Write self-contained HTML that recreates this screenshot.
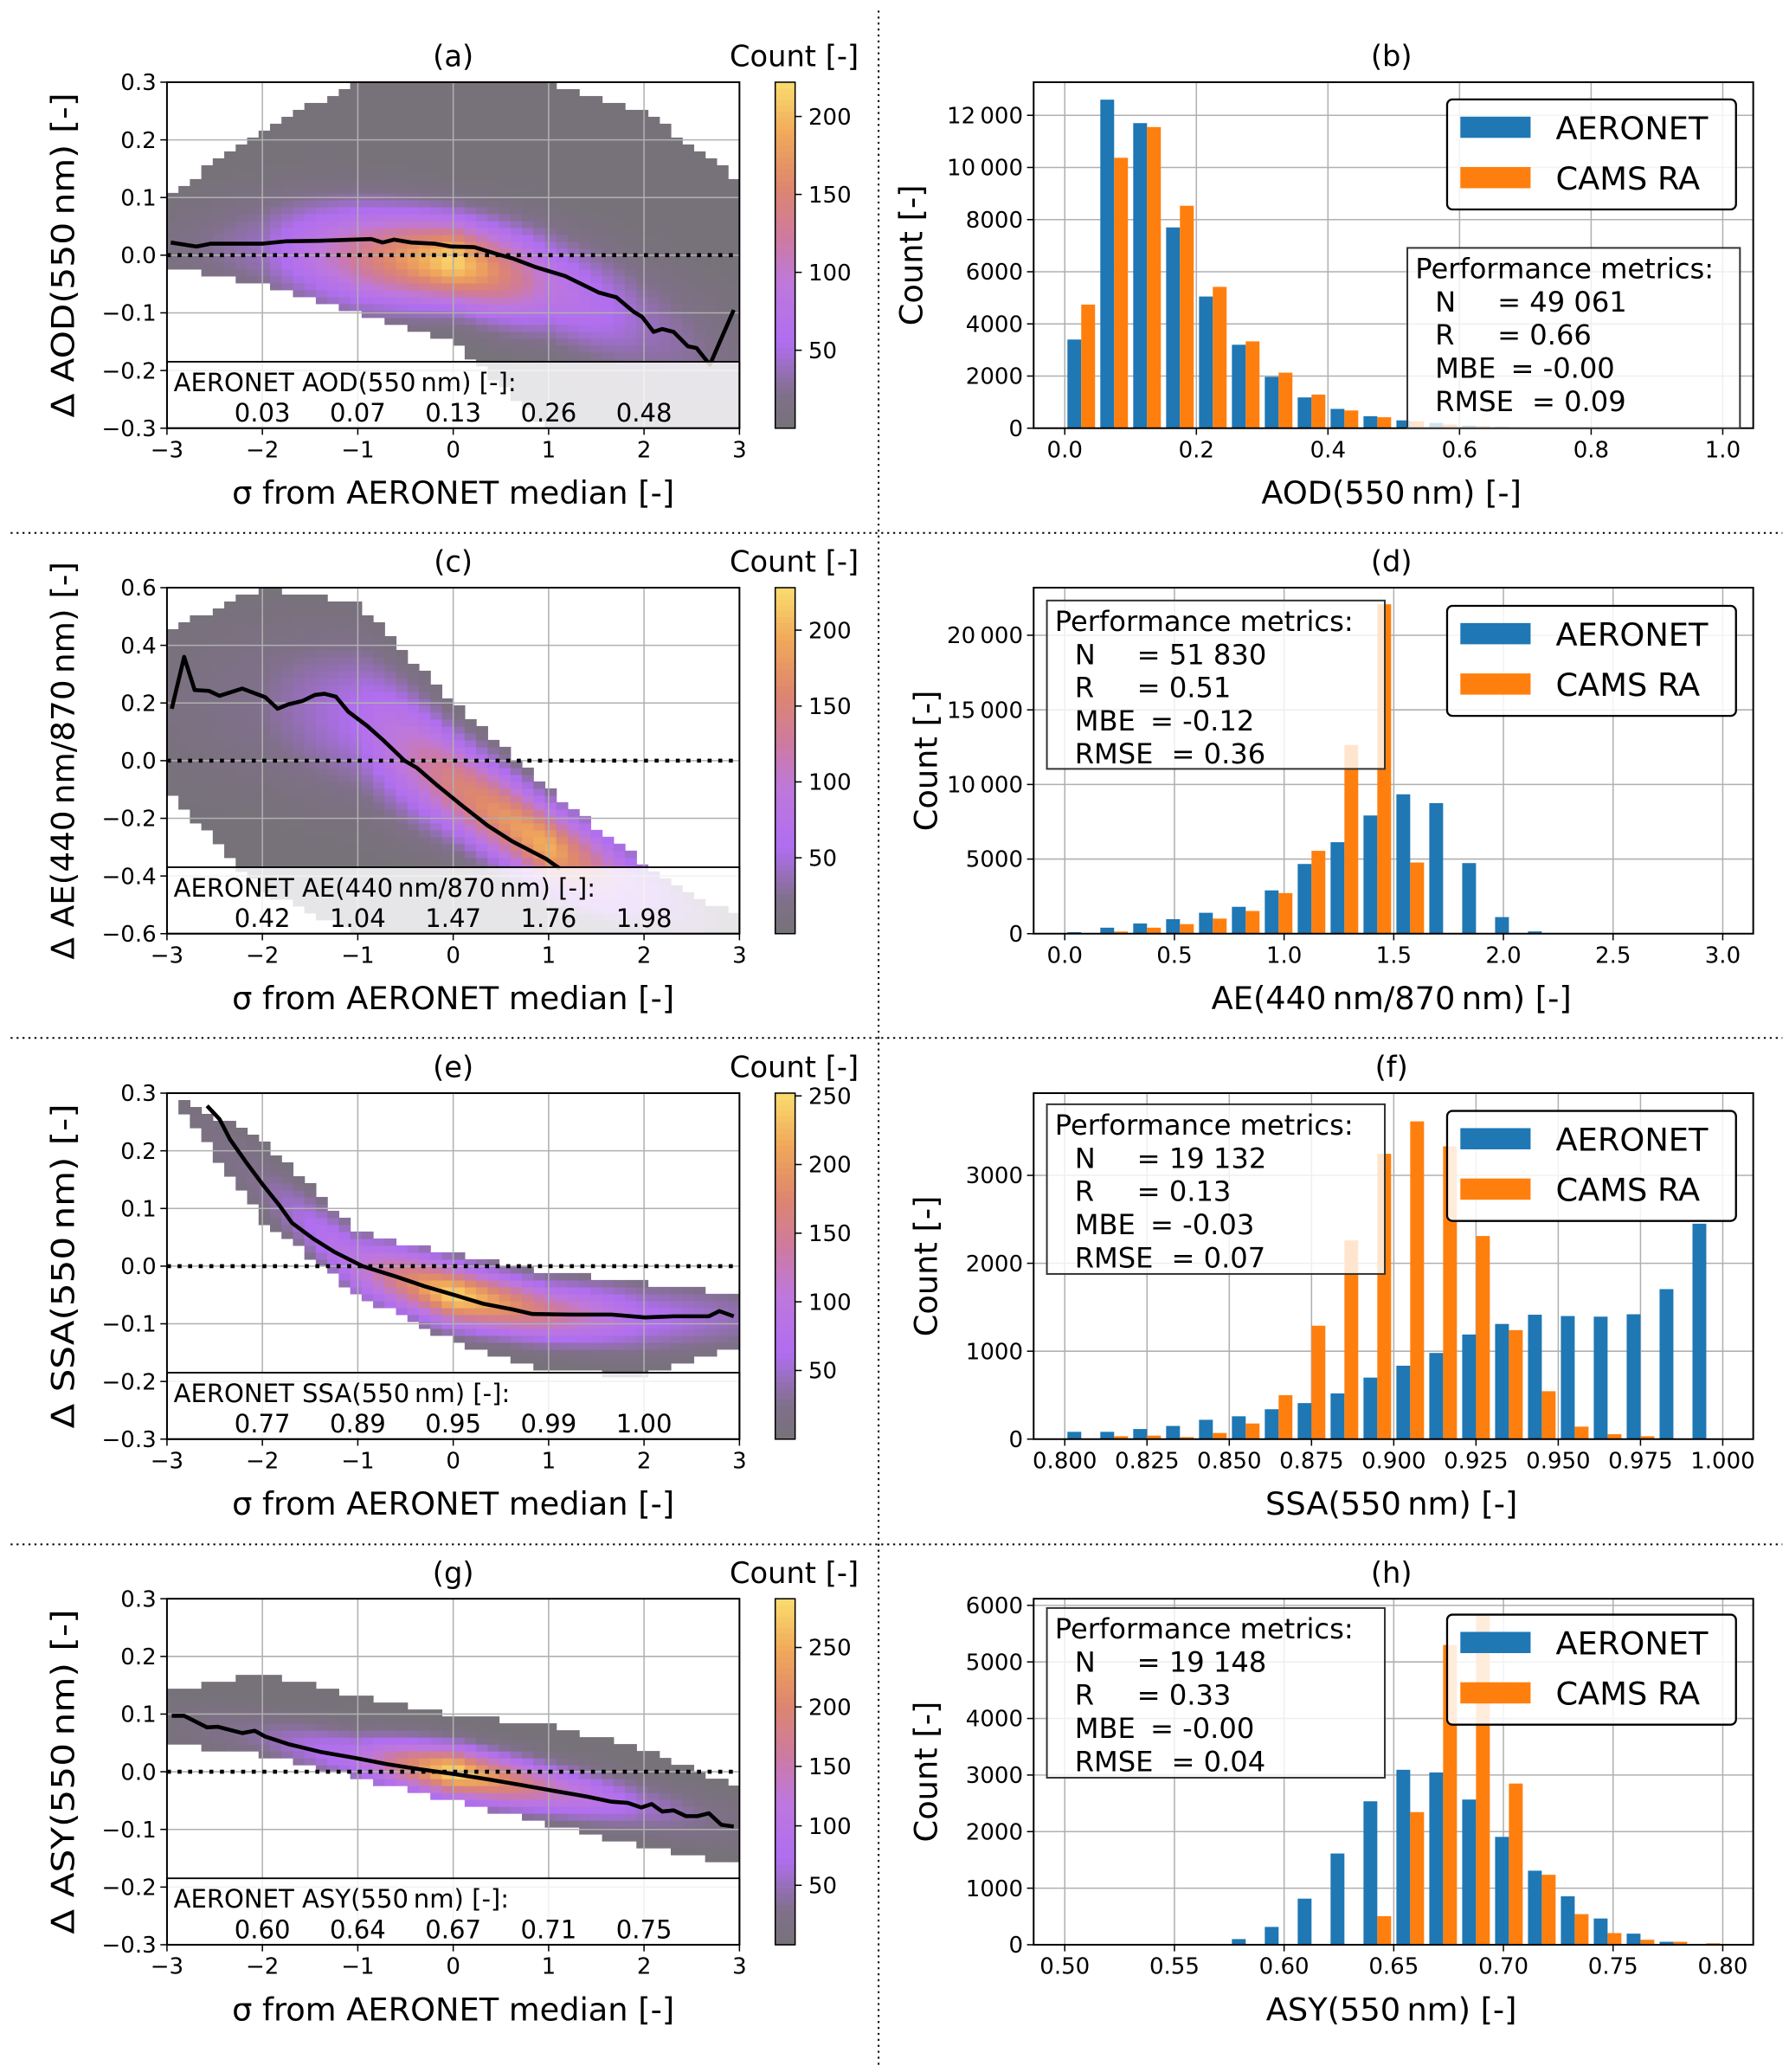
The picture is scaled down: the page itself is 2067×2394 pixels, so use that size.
<!DOCTYPE html>
<html><head><meta charset="utf-8"><title>AERONET vs CAMS RA</title>
<style>html,body{margin:0;padding:0;background:#fff}svg{display:block}text{font-family:"DejaVu Sans","Liberation Sans",sans-serif;fill:#000}</style>
</head><body>
<svg id="fig" xmlns="http://www.w3.org/2000/svg" width="2067" height="2394" viewBox="0 0 1350 1563" preserveAspectRatio="none"></svg>
<script>
// ---------- Histogram data ----------
const binStartB=0.0, binWidthB=0.05;
const aeronetB=[3400,12600,11700,7700,5050,3200,1970,1180,740,460,300,200,100,60,25,15,10,5,3,2];
const camsB=[4740,10370,11550,8530,5420,3330,2130,1290,680,420,260,140,80,40,20,10,5,3,2,1];
const binStartD=0.0, binWidthD=0.15;
const aeronetD=[100,400,680,970,1400,1800,2900,4670,6130,7920,9340,8750,4730,1110,150,0,0,0,0,0];
const camsD=[0,140,400,640,1010,1520,2720,5550,12650,22080,4770,0,0,0,0,0,0,0,0,0];
const binStartF=0.8, binWidthF=0.01;
const aeronetF=[83,83,115,150,220,260,340,410,520,700,835,980,1190,1310,1415,1400,1393,1420,1706,2450];
const camsF=[0,33,40,23,70,178,500,1290,2260,3245,3614,3330,2310,1240,545,142,56,33,0,0];
const binStartH=0.5, binWidthH=0.015;
const aeronetH=[0,0,0,0,15,100,315,815,1613,2536,3093,3046,2567,1907,1309,856,464,196,52,10];
const camsH=[0,0,0,0,0,0,0,0,0,505,2345,5300,5850,2850,1237,541,206,88,52,26];
// ---------- Median-line data (sigma, delta) ----------
const sigA=[-2.96,-2.69,-2.54,-2.0,-1.76,-1.4,-0.86,-0.74,-0.62,-0.44,-0.2,-0.02,0.22,0.46,0.63,0.87,1.17,1.53,1.71,1.89,1.98,2.1,2.19,2.31,2.46,2.55,2.69,2.94];
const medA=[0.022,0.015,0.02,0.02,0.024,0.025,0.028,0.022,0.027,0.022,0.02,0.015,0.014,0.002,-0.006,-0.021,-0.036,-0.065,-0.073,-0.098,-0.107,-0.133,-0.128,-0.133,-0.158,-0.161,-0.19,-0.095];
const sigC=[-2.95,-2.82,-2.71,-2.56,-2.45,-2.21,-1.97,-1.84,-1.73,-1.58,-1.45,-1.35,-1.23,-1.1,-0.9,-0.73,-0.51,-0.38,-0.17,0.09,0.36,0.62,0.97,1.12];
const medC=[0.18,0.36,0.245,0.242,0.225,0.25,0.22,0.18,0.195,0.207,0.228,0.232,0.222,0.17,0.12,0.07,0.0,-0.025,-0.085,-0.155,-0.225,-0.28,-0.34,-0.375];
const sigE=[-2.58,-2.45,-2.34,-2.17,-1.99,-1.82,-1.69,-1.47,-1.25,-0.95,-0.6,-0.3,0.01,0.31,0.62,0.83,1.23,1.66,2.01,2.31,2.68,2.79,2.94];
const medE=[0.278,0.255,0.22,0.18,0.14,0.105,0.075,0.048,0.025,0.0,-0.018,-0.035,-0.05,-0.065,-0.075,-0.083,-0.084,-0.084,-0.089,-0.087,-0.087,-0.078,-0.087];
const sigG=[-2.95,-2.82,-2.58,-2.47,-2.21,-2.08,-1.97,-1.73,-1.38,-1.03,-0.69,-0.34,0.01,0.36,0.71,1.05,1.4,1.66,1.83,1.97,2.08,2.19,2.31,2.44,2.56,2.68,2.81,2.94];
const medG=[0.097,0.097,0.077,0.078,0.067,0.071,0.061,0.048,0.034,0.024,0.013,0.004,-0.004,-0.013,-0.023,-0.033,-0.043,-0.052,-0.054,-0.062,-0.056,-0.069,-0.067,-0.077,-0.077,-0.072,-0.092,-0.095];
// ---------- Density envelope knots (sigma = -3..3) ----------
const knots=[-3,-2,-1,0,1,2,3];
const cenA=[0.02,0.015,0.0,-0.01,-0.05,-0.12,-0.2], widA=[0.05,0.06,0.06,0.05,0.06,0.07,0.08], peakA=[12,40,130,220,90,40,15], loA=[-0.02,-0.05,-0.1,-0.15,-0.3,-0.3,-0.3], hiA=[0.1,0.22,0.3,0.3,0.3,0.25,0.13];
const cenC=[0.2,0.2,0.15,-0.08,-0.3,-0.45,-0.6], widC=[0.2,0.2,0.18,0.12,0.1,0.1,0.1], peakC=[10,25,60,150,200,60,10], loC=[-0.1,-0.45,-0.6,-0.6,-0.6,-0.6,-0.6], hiC=[0.45,0.6,0.55,0.2,-0.1,-0.36,-0.55];
const cenE=[0.3,0.14,0.0,-0.05,-0.08,-0.09,-0.09], widE=[0.04,0.04,0.04,0.035,0.035,0.04,0.04], peakE=[5,30,100,250,150,70,40], loE=[0.31,0.08,-0.05,-0.13,-0.18,-0.19,-0.14], hiE=[0.3,0.22,0.06,0.02,-0.01,-0.03,-0.05];
const cenG=[0.09,0.06,0.025,0.0,-0.03,-0.06,-0.09], widG=[0.03,0.03,0.03,0.03,0.03,0.03,0.03], peakG=[10,40,100,290,150,60,15], loG=[0.05,0.03,-0.01,-0.05,-0.09,-0.13,-0.16], hiG=[0.14,0.17,0.13,0.1,0.08,0.04,-0.03];
const cbarMax=[222,228,252,291];
const cbarTicksA=[50,100,150,200], cbarTicksC=[50,100,150,200], cbarTicksE=[50,100,150,200,250], cbarTicksG=[50,100,150,200,250];
const insetA=["0.03","0.07","0.13","0.26","0.48"], insetC=["0.42","1.04","1.47","1.76","1.98"], insetE=["0.77","0.89","0.95","0.99","1.00"], insetG=["0.60","0.64","0.67","0.71","0.75"];
const metricsB=["49 061","0.66","-0.00","0.09"], metricsD=["51 830","0.51","-0.12","0.36"], metricsF=["19 132","0.13","-0.03","0.07"], metricsH=["19 148","0.33","-0.00","0.04"];

const NS="http://www.w3.org/2000/svg";
const svg=document.getElementById('fig');
function mk(tag,attrs,parent){const e=document.createElementNS(NS,tag);for(const k in attrs)e.setAttribute(k,attrs[k]);(parent||svg).appendChild(e);return e;}
function txt(s,x,y,size,anchor,parent){const t=mk('text',{x:x,y:y,'font-size':size,'text-anchor':anchor||'start'},parent);t.textContent=s;return t;}
function lerpK(arr,s){if(s<=knots[0])return arr[0];for(let i=0;i<knots.length-1;i++){if(s<=knots[i+1]){const f=(s-knots[i])/(knots[i+1]-knots[i]);return arr[i]+f*(arr[i+1]-arr[i]);}}return arr[arr.length-1];}
const cmStops=[[0,[118,114,120]],[0.1,[128,112,138]],[0.25,[176,110,240]],[0.42,[190,120,220]],[0.55,[205,122,160]],[0.7,[222,134,110]],[0.85,[240,168,90]],[1,[250,220,110]]];
function cmap(t){t=Math.max(0,Math.min(1,t));for(let i=0;i<cmStops.length-1;i++){const a=cmStops[i],b=cmStops[i+1];if(t<=b[0]){const f=(t-a[0])/(b[0]-a[0]);const c=a[1].map((v,j)=>Math.round(v+f*(b[1][j]-v)));return `rgb(${c[0]},${c[1]},${c[2]})`;}}return 'rgb(250,220,110)';}

const X0=126,X1=558,RX0=780,RX1=1323,H=261;
const tops=[62,443.3,824.6,1206];

mk('line',{x1:663,y1:8,x2:663,y2:1560,stroke:'#000','stroke-width':1.3,'stroke-dasharray':'1.5,3'});
[402,783,1165].forEach(y=>{const l=mk('line',{x1:8,y1:y,x2:1345,y2:y,stroke:'#000','stroke-width':1.3,'stroke-dasharray':'1.5,3'});});

const leftPanels=[
 {id:'a',ymin:-0.3,ymax:0.3,step:0.1,sig:sigA,med:medA,cen:cenA,wid:widA,peak:peakA,lo:loA,hi:hiA,cmax:cbarMax[0],cticks:cbarTicksA,inset:'AERONET AOD(550\u2009nm) [-]:',ivals:insetA,ylab:'\u0394 AOD(550\u2009nm) [-]'},
 {id:'c',ymin:-0.6,ymax:0.6,step:0.2,sig:sigC,med:medC,cen:cenC,wid:widC,peak:peakC,lo:loC,hi:hiC,cmax:cbarMax[1],cticks:cbarTicksC,inset:'AERONET AE(440\u2009nm/870\u2009nm) [-]:',ivals:insetC,ylab:'\u0394 AE(440\u2009nm/870\u2009nm) [-]'},
 {id:'e',ymin:-0.3,ymax:0.3,step:0.1,sig:sigE,med:medE,cen:cenE,wid:widE,peak:peakE,lo:loE,hi:hiE,cmax:cbarMax[2],cticks:cbarTicksE,inset:'AERONET SSA(550\u2009nm) [-]:',ivals:insetE,ylab:'\u0394 SSA(550\u2009nm) [-]'},
 {id:'g',ymin:-0.3,ymax:0.3,step:0.1,sig:sigG,med:medG,cen:cenG,wid:widG,peak:peakG,lo:loG,hi:hiG,cmax:cbarMax[3],cticks:cbarTicksG,inset:'AERONET ASY(550\u2009nm) [-]:',ivals:insetG,ylab:'\u0394 ASY(550\u2009nm) [-]'}
];

leftPanels.forEach((p,i)=>{
 const top=tops[i],bot=top+H;
 const g=mk('g',{});
 
 
 const xs=s=>X0+(s+3)/6*(X1-X0);
 const ys=v=>bot-(v-p.ymin)/(p.ymax-p.ymin)*H;
 const clip=mk('clipPath',{id:'clip'+p.id},g);mk('rect',{x:X0,y:top,width:X1-X0,height:H},clip);
 const cells=mk('g',{'clip-path':'url(#clip'+p.id+')'},g);
 const N=50,dy=(p.ymax-p.ymin)/N,dx=6/N;
 for(let ix=0;ix<N;ix++){const s=-3+(ix+0.5)*dx;const lo=lerpK(p.lo,s),hi=lerpK(p.hi,s),c=lerpK(p.cen,s),w=lerpK(p.wid,s),pk=lerpK(p.peak,s);
  for(let iy=0;iy<N;iy++){const v=p.ymin+(iy+0.5)*dy;if(v<lo||v>hi)continue;
   const cnt=Math.max(2,pk*Math.exp(-0.5*((v-c)/w)**2));
   const r=mk('rect',{x:xs(-3+ix*dx),y:ys(p.ymin+(iy+1)*dy),width:(X1-X0)/N+0.4,height:H/N+0.4,fill:cmap(cnt/p.cmax)},cells);
   
   }}
 for(let s=-2;s<=2;s++)mk('line',{x1:xs(s),y1:top,x2:xs(s),y2:bot,stroke:'#b0b0b0','stroke-width':1},g);
 for(let v=p.ymin+p.step;v<p.ymax-1e-9;v+=p.step)mk('line',{x1:X0,y1:ys(v),x2:X1,y2:ys(v),stroke:'#b0b0b0','stroke-width':1},g);
 const z=mk('line',{x1:X0,y1:ys(0),x2:X1,y2:ys(0),stroke:'#000','stroke-width':3,'stroke-dasharray':'3,5'},g);
 
 const pl=mk('polyline',{points:p.sig.map((s,k)=>xs(s)+','+ys(p.med[k])).join(' '),fill:'none',stroke:'#000','stroke-width':3,'stroke-linejoin':'round'},g);
 
 const iy=top+H*0.808;
 const ins=mk('rect',{x:X0,y:iy,width:X1-X0,height:bot-iy,fill:'#fff','fill-opacity':0.82,stroke:'#000','stroke-width':1.2},g);
 
 txt(p.inset,131,top+233,19,'start',g);
 p.ivals.forEach((t,k)=>txt(t,xs(k-2),top+256,19,'middle',g));
 mk('rect',{x:X0,y:top,width:X1-X0,height:H,fill:'none',stroke:'#000','stroke-width':1.3},g);
 for(let s=-3;s<=3;s++){mk('line',{x1:xs(s),y1:bot,x2:xs(s),y2:bot+5,stroke:'#000'},g);txt((s<0?'\u2212':'')+Math.abs(s),xs(s),bot+22,17,'middle',g);}
 for(let k=0;k<=Math.round((p.ymax-p.ymin)/p.step);k++){const v=p.ymin+k*p.step;mk('line',{x1:X0-5,y1:ys(v),x2:X0,y2:ys(v),stroke:'#000'},g);const vs=(Math.abs(v)<1e-9?'0.0':(v<0?'\u2212':'')+Math.abs(v).toFixed(1));txt(vs,X0-8,ys(v)+6,17,'end',g);}
 const xl=txt('\u03c3 from AERONET median [-]',342,bot+57,24,'middle',g);
 const yl=txt(p.ylab,0,0,24,'middle',g);yl.setAttribute('transform',`translate(56,${top+H/2}) rotate(-90)`);yl.setAttribute('textLength',p.id==='c'?'300':'245');yl.setAttribute('lengthAdjust','spacingAndGlyphs');
 
 const tt=txt('('+p.id+')',342,top-12,22,'middle',g);
 const ct=txt('Count [-]',648,top-12,22,'end',g);
 const cb=mk('g',{},g);
 const NB=60;for(let k=0;k<NB;k++){mk('rect',{x:585,y:bot-(k+1)*H/NB,width:15,height:H/NB+0.5,fill:cmap((k+0.5)/NB)},cb);}
 mk('rect',{x:585,y:top,width:15,height:H,fill:'none',stroke:'#000','stroke-width':1},cb);
 p.cticks.forEach(t=>{const y=bot-t/p.cmax*H;mk('line',{x1:600,y1:y,x2:605,y2:y,stroke:'#000'},cb);txt(String(t),610,y+6,17,'start',cb);});
});

const rightPanels=[
 {id:'b',start:binStartB,w:binWidthB,a:aeronetB,c:camsB,xmin:0,xmax:1,xticks:[0,0.2,0.4,0.6,0.8,1.0],xdec:1,ymax:13270,yticks:[0,2000,4000,6000,8000,10000,12000],xlab:'AOD(550\u2009nm) [-]',met:metricsB,perf:[1062,187,251,136],leg:[1092,75]},
 {id:'d',start:binStartD,w:binWidthD,a:aeronetD,c:camsD,xmin:0,xmax:3,xticks:[0,0.5,1,1.5,2,2.5,3],xdec:1,ymax:23190,yticks:[0,5000,10000,15000,20000],xlab:'AE(440\u2009nm/870\u2009nm) [-]',met:metricsD,perf:[790,453,255,127],leg:[1092,457]},
 {id:'f',start:binStartF,w:binWidthF,a:aeronetF,c:camsF,xmin:0.8,xmax:1.0,xticks:[0.8,0.825,0.85,0.875,0.9,0.925,0.95,0.975,1.0],xdec:3,ymax:3935,yticks:[0,1000,2000,3000],xlab:'SSA(550\u2009nm) [-]',met:metricsF,perf:[790,833,255,128],leg:[1092,838]},
 {id:'h',start:binStartH,w:binWidthH,a:aeronetH,c:camsH,xmin:0.5,xmax:0.8,xticks:[0.5,0.55,0.6,0.65,0.7,0.75,0.8],xdec:2,ymax:6117,yticks:[0,1000,2000,3000,4000,5000,6000],xlab:'ASY(550\u2009nm) [-]',met:metricsH,perf:[790,1213,255,128],leg:[1092,1218]}
];
function fmtK(v){return v>=10000?String(Math.floor(v/1000))+'\u2009'+String(v%1000).padStart(3,'0'):String(v);}
rightPanels.forEach((p,i)=>{
 const top=tops[i],bot=top+H;
 const g=mk('g',{});
 const xs=v=>803.5+(v-p.xmin)/(p.xmax-p.xmin)*496.5;
 const ys=v=>bot-v/p.ymax*H;
 p.xticks.forEach(t=>mk('line',{x1:xs(t),y1:top,x2:xs(t),y2:bot,stroke:'#b0b0b0'},g));
 p.yticks.forEach(t=>mk('line',{x1:RX0,y1:ys(t),x2:RX1,y2:ys(t),stroke:'#b0b0b0'},g));
 p.a.forEach((v,k)=>{const l=p.start+k*p.w;const r=mk('rect',{x:xs(l+0.08*p.w),y:ys(v),width:xs(l+0.5*p.w)-xs(l+0.08*p.w),height:bot-ys(v),fill:'#1f77b4'},g);});
 p.c.forEach((v,k)=>{const l=p.start+k*p.w;const r=mk('rect',{x:xs(l+0.5*p.w),y:ys(v),width:xs(l+0.92*p.w)-xs(l+0.5*p.w),height:bot-ys(v),fill:'#ff7f0e'},g);});
 mk('rect',{x:RX0,y:top,width:RX1-RX0,height:H,fill:'none',stroke:'#000','stroke-width':1.3},g);
 p.xticks.forEach(t=>{mk('line',{x1:xs(t),y1:bot,x2:xs(t),y2:bot+5,stroke:'#000'},g);txt(t.toFixed(p.xdec),xs(t),bot+22,17,'middle',g);});
 p.yticks.forEach(t=>{mk('line',{x1:RX0-5,y1:ys(t),x2:RX0,y2:ys(t),stroke:'#000'},g);txt(fmtK(t),RX0-8,ys(t)+6,17,'end',g);});
 const xl=txt(p.xlab,1050,bot+57,24,'middle',g);
 const yl=txt('Count [-]',0,0,24,'middle',g);yl.setAttribute('transform',`translate(${i===0?696:707},${top+H/2}) rotate(-90)`);
 const tt=txt('('+p.id+')',1050,top-12,22,'middle',g);
 const pb=mk('g',{},g);
 mk('rect',{x:p.perf[0],y:p.perf[1],width:p.perf[2],height:p.perf[3],fill:'#fff','fill-opacity':0.8,stroke:'#333','stroke-width':1.3},pb);
 const px=p.perf[0]+6,py=p.perf[1]+23;
 txt('Performance metrics:',px,py,21,'start',pb);
 const labs=['N','R','MBE','RMSE'],eqx=[px+62,px+62,px+72,px+88];
 labs.forEach((l,k)=>{txt(l,px+15,py+25*(k+1),21,'start',pb);txt('= '+p.met[k],eqx[k],py+25*(k+1),21,'start',pb);});
 const lg=mk('g',{},g);
 const [lx,ly]=p.leg;
 mk('rect',{x:lx,y:ly,width:218,height:83,rx:4,fill:'#fff','fill-opacity':0.85,stroke:'#000','stroke-width':1.5},lg);
 const e1=mk('rect',{x:lx+10,y:ly+13,width:53,height:16,fill:'#1f77b4'},lg);
 txt('AERONET',lx+82,ly+30,24,'start',lg);
 const e2=mk('rect',{x:lx+10,y:ly+51,width:53,height:16,fill:'#ff7f0e'},lg);
 txt('CAMS RA',lx+82,ly+68,24,'start',lg);
});
</script>
</body></html>
